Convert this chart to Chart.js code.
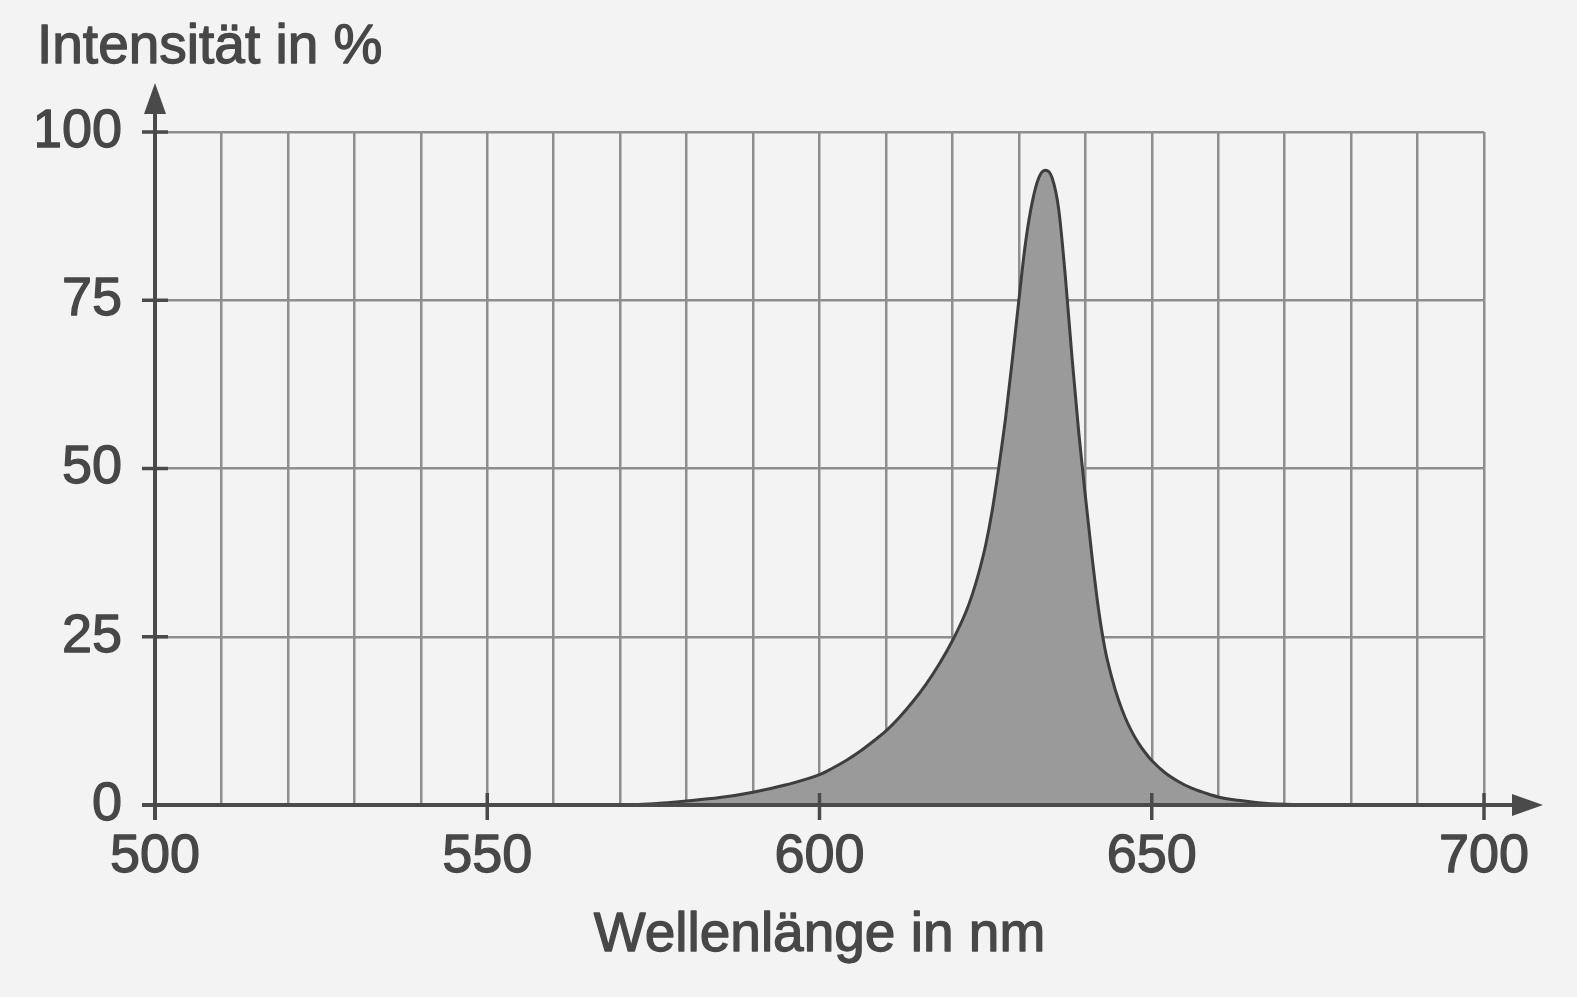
<!DOCTYPE html>
<html><head><meta charset="utf-8">
<script src="https://cdn.jsdelivr.net/npm/chart.js@4/dist/chart.umd.min.js"></script>
<style>html,body{margin:0;padding:0;background:#f3f3f3;overflow:hidden}</style>
</head><body>
<canvas id="c" width="1577" height="997"></canvas>
<script>
const wavelengthNm = [560, 570, 575, 580, 585, 590, 595, 600, 602, 604, 606, 608, 610, 612, 614, 616, 618, 620, 622, 623, 624, 625, 626, 627, 628, 629, 630, 631, 632, 633, 634, 635, 636, 637, 638, 639, 640, 641, 642, 643, 644, 645, 646, 647, 648, 649, 650, 652, 654, 656, 658, 660, 663, 666, 670, 675, 680];
const intensityPct = [0, 0, 0.2, 0.6, 1.1, 1.9, 3.0, 4.5, 5.5, 6.6, 7.9, 9.4, 11.0, 13.0, 15.3, 17.9, 20.9, 24.4, 28.6, 31.3, 34.6, 38.6, 43.8, 50.3, 57.5, 66, 75, 83.5, 89.5, 93.2, 94.3, 93.2, 88.5, 78.5, 66.5, 55.5, 46, 37, 29, 23, 18.9, 15.6, 13, 10.9, 9.2, 7.8, 6.6, 4.8, 3.5, 2.5, 1.8, 1.2, 0.7, 0.35, 0.1, 0, 0];
const xTickLabels = [500, 550, 600, 650, 700];
const yTickLabels = [0, 25, 50, 75, 100];
const yTitle = 'Intensität in %';
const xTitle = 'Wellenlänge in nm';

const TEXT = '#474747';
const AXIS = '#4a4a4a';
const GRID = '#8e8e8e';
const FONT = '"Liberation Sans", Arial, sans-serif';

const bgPlugin = {
  id: 'bg',
  beforeDraw(chart) {
    const {ctx, width, height} = chart;
    ctx.save(); ctx.fillStyle = '#f3f3f3'; ctx.fillRect(0, 0, width, height); ctx.restore();
  }
};

// slightly heavier text (medium weight look)
const textWeightPlugin = {
  id: 'textWeight',
  beforeInit(chart) {
    const ctx = chart.ctx;
    const orig = ctx.fillText;
    ctx.fillText = function (t, x, y, mw) {
      this.save();
      this.lineWidth = 1.3; this.lineJoin = 'round'; this.strokeStyle = this.fillStyle;
      if (mw !== undefined) this.strokeText(t, x, y, mw); else this.strokeText(t, x, y);
      this.restore();
      return mw !== undefined ? orig.call(this, t, x, y, mw) : orig.call(this, t, x, y);
    };
  }
};

const axesPlugin = {
  id: 'axes',
  afterDatasetsDraw(chart) {
    const {ctx, scales: {x, y}} = chart;
    const x0 = x.getPixelForValue(xTickLabels[0]);
    const xEnd = x.getPixelForValue(xTickLabels[xTickLabels.length - 1]);
    const y0 = y.getPixelForValue(yTickLabels[0]);
    const yTop = y.getPixelForValue(yTickLabels[yTickLabels.length - 1]);
    const line = (a, b, c, d) => { ctx.beginPath(); ctx.moveTo(a, b); ctx.lineTo(c, d); ctx.stroke(); };
    ctx.save();
    ctx.strokeStyle = AXIS; ctx.fillStyle = AXIS; ctx.lineCap = 'butt';
    ctx.lineWidth = 4;
    line(x0 - 13, y0, xEnd + 30, y0);
    ctx.beginPath(); ctx.moveTo(xEnd + 59, y0); ctx.lineTo(xEnd + 28, y0 - 11); ctx.lineTo(xEnd + 28, y0 + 11); ctx.closePath(); ctx.fill();
    line(x0, y0 + 15, x0, yTop - 21);
    ctx.beginPath(); ctx.moveTo(x0, yTop - 49); ctx.lineTo(x0 - 11, yTop - 18); ctx.lineTo(x0 + 11, yTop - 18); ctx.closePath(); ctx.fill();
    ctx.lineWidth = 3.5;
    xTickLabels.forEach(v => { const p = x.getPixelForValue(v); line(p, y0 - 12, p, y0 + 15); });
    yTickLabels.forEach(v => { const p = y.getPixelForValue(v); line(x0 - 13, p, x0 + 13, p); });
    ctx.restore();
  }
};

new Chart(document.getElementById('c'), {
  type: 'line',
  data: {
    datasets: [{
      data: wavelengthNm.map((w, i) => ({x: w, y: intensityPct[i]})),
      borderColor: '#3e3e3e',
      borderWidth: 3,
      backgroundColor: '#9a9a9a',
      fill: 'origin',
      pointRadius: 0,
      cubicInterpolationMode: 'monotone'
    }]
  },
  options: {
    responsive: false,
    devicePixelRatio: 1,
    animation: false,
    layout: {padding: {left: 37, right: 93, top: 15, bottom: 28}},
    plugins: {
      legend: {display: false},
      tooltip: {enabled: false},
      title: {
        display: true, text: yTitle, align: 'start', color: TEXT,
        font: {family: FONT, size: 55, weight: 'normal', lineHeight: 1.2},
        padding: {top: 0, bottom: 51}
      }
    },
    scales: {
      x: {
        type: 'linear', min: 500, max: 700,
        border: {display: false},
        grid: {color: GRID, lineWidth: 2.5, drawTicks: false},
        title: {
          display: true, text: xTitle, color: TEXT,
          font: {family: FONT, size: 55, weight: 'normal', lineHeight: 1.2},
          padding: {top: 0, bottom: 0}
        },
        ticks: {
          stepSize: 10, autoSkip: false, maxRotation: 0, padding: 20, color: TEXT,
          font: {family: FONT, size: 54},
          callback: v => xTickLabels.includes(v) ? String(v) : ''
        },
        afterFit: s => { s.height = 164; s.paddingLeft = 0; s.paddingRight = 0; }
      },
      y: {
        type: 'linear', min: 0, max: 100,
        border: {display: false},
        grid: {color: GRID, lineWidth: 2.5, drawTicks: false},
        ticks: {
          stepSize: 25, padding: 33, color: TEXT,
          font: {family: FONT, size: 54},
          callback: v => yTickLabels.includes(v) ? String(v) : ''
        },
        afterFit: s => { s.width = 118; s.paddingTop = 0; s.paddingBottom = 0; }
      }
    }
  },
  plugins: [bgPlugin, textWeightPlugin, axesPlugin]
});
</script>
</body></html>
